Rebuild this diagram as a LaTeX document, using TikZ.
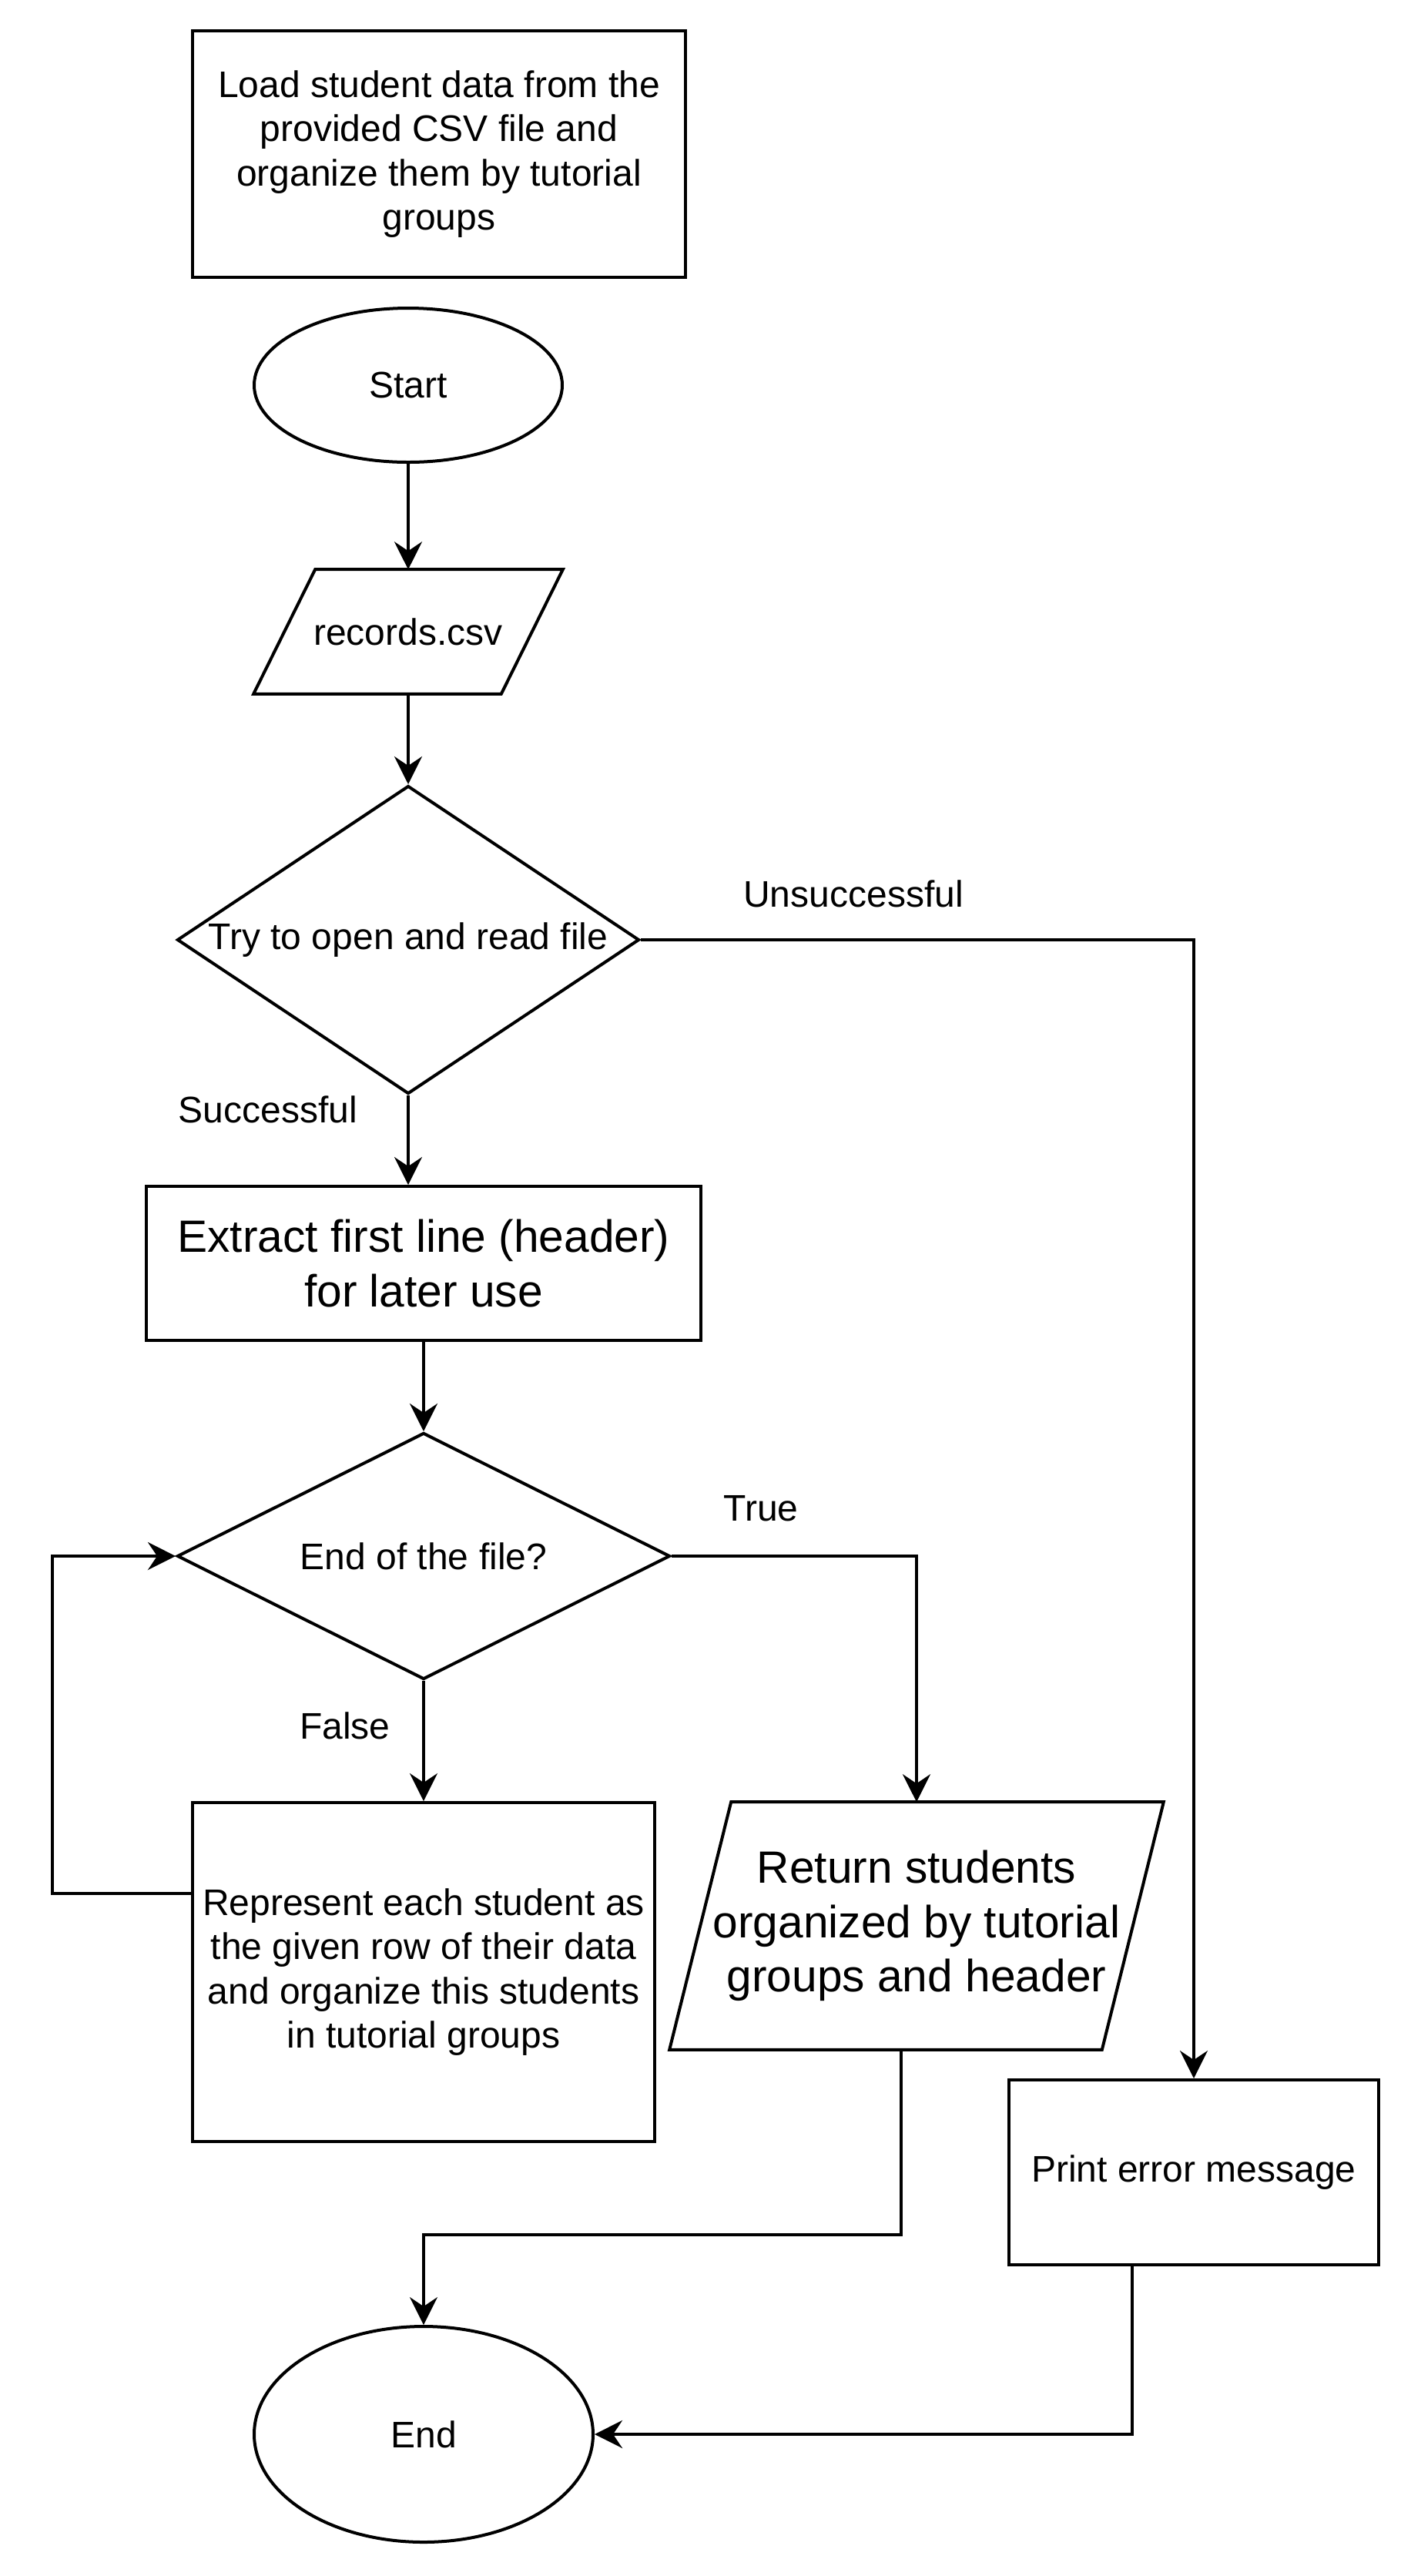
\documentclass[tikz,border=0pt]{standalone}
\usepackage{fontspec}
\setmainfont{Liberation Sans}
\usetikzlibrary{arrows.meta,positioning,calc,shapes.geometric}

\tikzset{
  box/.style={draw, line width=1pt, rectangle, inner sep=0pt, align=center},
  bigtext/.style={font=\fontsize{14.67}{17.6}\selectfont},
  terminal/.style={draw, line width=1pt, ellipse, inner sep=0pt},
  iobox/.style={rectangle, inner sep=0pt, align=center},
  decision/.style={draw, line width=1pt, diamond, inner sep=0pt},
  branch/.style={inner sep=0pt},
  arrow/.style={line width=1pt, -{Stealth[length=9pt,width=9pt,inset=3pt]}},
}

\begin{document}
\begin{tikzpicture}[x=1pt,y=-1pt,font=\fontsize{12}{14.4}\selectfont]
  \fill[white] (0,0) rectangle (458,836); % 背景（画像全体の大きさ）
  \node[box, minimum width=160, minimum height=80] (load) at (142.5,50) {Load student data from the\\provided CSV file and\\organize them by tutorial\\groups}; % 説明の箱
  \node[terminal, minimum width=100, minimum height=50] (start) at (132.5,125) {Start}; % 開始
  \node[iobox, minimum width=100, minimum height=40] (rec) at (132.5,205) {records.csv}; % 入力ファイル
  \draw[line width=1pt] (rec.south west) -- ($(rec.north west)+(20,0)$) -- (rec.north east) -- ($(rec.south east)+(-20,0)$) -- cycle; % 入力の平行四辺形
  \node[decision, minimum width=150, minimum height=100, label=center:{Try to open and read file}] (tryopen) at (132.5,305) {}; % ファイルを開く判定
  \node[box, bigtext, minimum width=180, minimum height=50] (header) at (137.5,410) {Extract first line (header)\\for later use}; % ヘッダ取得
  \node[decision, minimum width=160, minimum height=80, label=center:{End of the file?}] (eof) at (137.5,505) {}; % ファイル終端の判定
  \node[box, minimum width=150, minimum height=110] (rep) at (137.5,640) {Represent each student as\\the given row of their data\\and organize this students\\in tutorial groups}; % 各行の処理
  \node[iobox, bigtext, minimum width=160, minimum height=80] (ret) at (297.5,625) {Return students\\organized by tutorial\\groups and header}; % 出力
  \draw[line width=1pt] (ret.south west) -- ($(ret.north west)+(20,0)$) -- (ret.north east) -- ($(ret.south east)+(-20,0)$) -- cycle; % 出力の平行四辺形
  \node[box, minimum width=120, minimum height=60] (err) at (387.5,705) {Print error message}; % エラー表示
  \node[terminal, minimum width=110, minimum height=70] (finish) at (137.5,790) {End}; % 終了

  \node[branch] (unsucc) at (277,290) {Unsuccessful}; % 失敗側の分岐ラベル
  \node[branch] (succ) at (87,360) {Successful}; % 成功側の分岐ラベル
  \node[branch] (truelbl) at (247,489.5) {True}; % 終端に達したとき
  \node[branch] (falselbl) at (112,560) {False}; % 終端でないとき

  \draw[arrow] (start) -- (rec); % 開始から入力へ
  \draw[arrow] (rec) -- (tryopen); % 入力から判定へ
  \draw[arrow] (tryopen.east) -| (err.north); % 失敗時はエラーへ
  \draw[arrow] (tryopen.south) -- (tryopen.south |- header.north); % 成功時はヘッダへ
  \draw[arrow] (header) -- (eof); % ヘッダから終端判定へ
  \draw[arrow] (eof.east) -| (ret.north); % 終端なら出力へ
  \draw[arrow] (eof) -- (rep); % 終端でなければ処理へ
  \draw[arrow] ($(rep.north west)+(0,30)$) -- ++(-45,0) |- (eof.west); % 処理後に判定へ戻る
  \draw[arrow] ($(ret.south)+(-5,0)$) -- ++(0,60) -| (finish.north); % 出力から終了へ
  \draw[arrow] ($(err.south)+(-20,0)$) |- (finish.east); % エラーから終了へ
\end{tikzpicture}
\end{document}
